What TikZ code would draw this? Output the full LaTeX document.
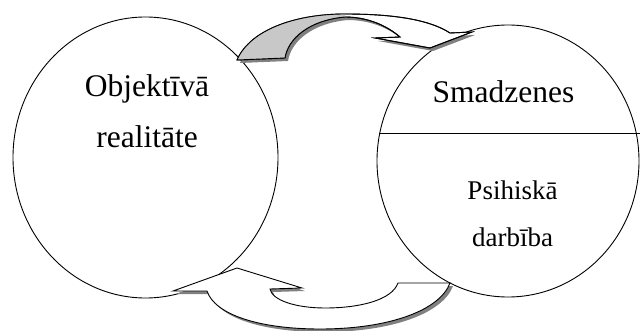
\documentclass[tikz,border=0pt]{standalone}
\usepackage{fontspec}
\setmainfont{Liberation Serif}
\usetikzlibrary{shapes.geometric}
\definecolor{arrowgray}{RGB}{200,200,200}
\definecolor{shadowgray}{RGB}{128,128,128}
\tikzset{
  oval/.style={draw, ellipse, line width=0.9pt, inner sep=0pt},
  bigtext/.style={font=\fontsize{31.5}{36}\selectfont, anchor=base},
  smalltext/.style={font=\fontsize{27}{32}\selectfont, anchor=base},
  blockarrow/.style={draw, fill=white, line width=0.9pt, line join=miter},
  arrowshadow/.style={fill=shadowgray, shift={(3,3)}}
}
% curved arrow from the left circle to the right one
\newcommand{\toparrow}{(237,60) .. controls (250,30) and (295,14) .. (345,14)
  .. controls (395,14) and (430,20) .. (450,33) -- (472,32) -- (430,48)
  -- (375,38) -- (400,37) .. controls (385,24) and (365,17) .. (345,17)
  .. controls (310,20) and (288,38) .. (285,58) -- cycle}
% curved arrow back from the right circle to the left one
\newcommand{\bottomarrow}{(450,283) -- (398,283)
  .. controls (392,300) and (360,308) .. (325,308)
  .. controls (295,308) and (272,300) .. (270,289) -- (302,288) -- (237,268)
  -- (173,291) -- (207,291) .. controls (215,315) and (260,329) .. (320,329)
  .. controls (390,329) and (440,310) .. (450,283) -- cycle}
\begin{document}
\begin{tikzpicture}[x=1pt,y=-1pt]
\useasboundingbox (0,0) rectangle (640,331);
\node[oval, minimum width=265, minimum height=281] (realitate) at (145.5,157.5) {};
\node[oval, minimum width=262, minimum height=272] (smadzenes) at (508,161) {};
\draw[line width=0.9pt] (379,133)--(640,133);
% arrows with their shadows
\fill[arrowshadow] \toparrow;
\path[blockarrow] \toparrow;
\fill[arrowgray] (237,60) .. controls (250,30) and (295,14) .. (345,14)
  -- (345,17) .. controls (310,20) and (288,38) .. (285,58) -- cycle;
\draw[line width=0.9pt, line join=miter] \toparrow;
\fill[arrowshadow] \bottomarrow;
\path[blockarrow] \bottomarrow;
% texts
\node[bigtext] (objt) at (147,97) {Objektīvā};
\node[bigtext] (real) at (147,148) {realitāte};
\node[bigtext] (smad) at (503.5,103) {Smadzenes};
\node[smalltext] (psih) at (512.5,200) {Psihiskā};
\node[smalltext] (darb) at (512.5,247) {darbība};
\end{tikzpicture}
\end{document}
